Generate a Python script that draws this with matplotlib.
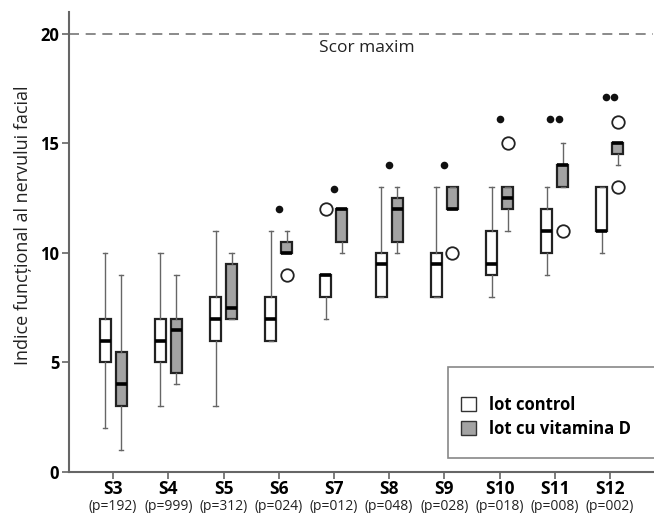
import matplotlib

matplotlib.use("Agg")
import matplotlib.pyplot as plt
from matplotlib.patches import Patch, Rectangle

plt.rcParams["font.family"] = ["Open Sans", "DejaVu Sans"]

# date
sesiuni = ["S3", "S4", "S5", "S6", "S7", "S8", "S9", "S10", "S11", "S12"]
p_valori = ["192", "999", "312", "024", "012", "048", "028", "018", "008", "002"]

# lot control
ctrl_q1 = [5, 5, 6, 6, 8, 8, 8, 9, 10, 11]
ctrl_med = [6, 6, 7, 7, 9, 9.5, 9.5, 9.5, 11, 11]
ctrl_q3 = [7, 7, 8, 8, 9, 10, 10, 11, 12, 13]
ctrl_lo = [2, 3, 3, 6, 7, 8, 8, 8, 9, 10]
ctrl_hi = [10, 10, 11, 11, 9, 13, 13, 13, 13, 13]
ctrl_fliers = [[], [], [], [], [12], [], [], [], [], []]

# lot cu vitamina D
vitd_q1 = [3, 4.5, 7, 10, 10.5, 10.5, 12, 12, 13, 14.5]
vitd_med = [4, 6.5, 7.5, 10, 12, 12, 12, 12.5, 14, 15]
vitd_q3 = [5.5, 7, 9.5, 10.5, 12, 12.5, 13, 13, 14, 15]
vitd_lo = [1, 4, 7, 10, 10, 10, 12, 11, 13, 14]
vitd_hi = [9, 9, 10, 11, 12, 13, 13, 13, 15, 15]
vitd_fliers = [[], [], [], [9], [], [], [10], [15], [11], [16, 13]]

# valori extreme (puncte pline)
extreme = [[], [], [], [12], [12.9], [14], [14], [16.1], [16.1, 16.1], [17.1, 17.1]]


def stats(q1, med, q3, lo, hi, fl):
    return [dict(q1=a, med=b, q3=c, whislo=d, whishi=e, fliers=f)
            for a, b, c, d, e, f in zip(q1, med, q3, lo, hi, fl)]


fig = plt.figure(figsize=(6.54, 5.13), dpi=100)
ax = fig.add_axes([69 / 654, 41 / 513, 584 / 654, 460 / 513])

pos = list(range(1, len(sesiuni) + 1))
off = 0.145
common = dict(widths=0.2, capwidths=0.08, patch_artist=True,
              whiskerprops=dict(color="#666666", lw=1.0),
              capprops=dict(color="#666666", lw=1.0),
              medianprops=dict(color="black", lw=2.6),
              flierprops=dict(marker="o", markersize=9, markerfacecolor="white",
                              markeredgecolor="#222222", markeredgewidth=1.3))

ax.bxp(stats(ctrl_q1, ctrl_med, ctrl_q3, ctrl_lo, ctrl_hi, ctrl_fliers),
       positions=[p - off for p in pos],
       boxprops=dict(facecolor="white", edgecolor="#222222", lw=1.6), **common)
ax.bxp(stats(vitd_q1, vitd_med, vitd_q3, vitd_lo, vitd_hi, vitd_fliers),
       positions=[p + off for p in pos],
       boxprops=dict(facecolor="#a3a3a3", edgecolor="#222222", lw=1.6), **common)

for p, vals in zip(pos, extreme):
    n = len(vals)
    xs = [p] if n == 1 else [p - 0.08, p + 0.08][:n]
    ax.scatter(xs, vals, s=30, color="#111111", zorder=4, linewidths=0)

# scor maxim
ax.axhline(20, color="#777777", lw=1.2, ls=(0, (6, 4)))
ax.text(5.6, 19.35, "Scor maxim", ha="center", va="center", fontsize=12.5, color="#222222")

ax.set_xlim(0.2, 10.78)
ax.set_ylim(0, 21.0)
ax.set_yticks([0, 5, 10, 15, 20])
ax.set_yticklabels(["0", "5", "10", "15", "20"], fontweight="bold", fontsize=12)
ax.set_xticks(pos)
ax.set_xticklabels(sesiuni, fontweight="bold", fontsize=12.5)
ax.tick_params(axis="both", direction="out", length=5, width=1.2, color="#666666", pad=2)
ax.tick_params(axis="x", pad=0.5)
for i, p in enumerate(pos):
    ax.annotate(f"(p={p_valori[i]})", xy=(p, 0), xycoords=("data", "axes fraction"),
                xytext=(0, -25), textcoords="offset points", ha="center", va="center",
                fontsize=10, color="#222222")

for s in ["top", "right"]:
    ax.spines[s].set_visible(False)
for s in ["left", "bottom"]:
    ax.spines[s].set_color("#666666")
    ax.spines[s].set_linewidth(1.5)

ax.set_ylabel("Indice funcțional al nervului facial", fontsize=13, color="#222222", labelpad=8)
ax.yaxis.set_label_coords(-0.063, 0.537)

# legenda
fig.patches.append(Rectangle((448 / 654, 55 / 513), 0.32, 91 / 513, transform=fig.transFigure,
                             facecolor="white", edgecolor="#888888", lw=1.2, zorder=5))
handles = [Patch(facecolor="white", edgecolor="#333333", lw=1.0, label="lot control"),
           Patch(facecolor="#a3a3a3", edgecolor="#333333", lw=1.0, label="lot cu vitamina D")]
leg = fig.legend(handles=handles, loc="upper left", bbox_to_anchor=(446 / 654, 1 - 381 / 513),
                 frameon=False, handlelength=0.9, handleheight=0.9, handletextpad=0.8,
                 labelspacing=0.35, prop=dict(weight="bold", size=12))
leg.set_zorder(6)

fig.savefig("out.png", dpi=100)
